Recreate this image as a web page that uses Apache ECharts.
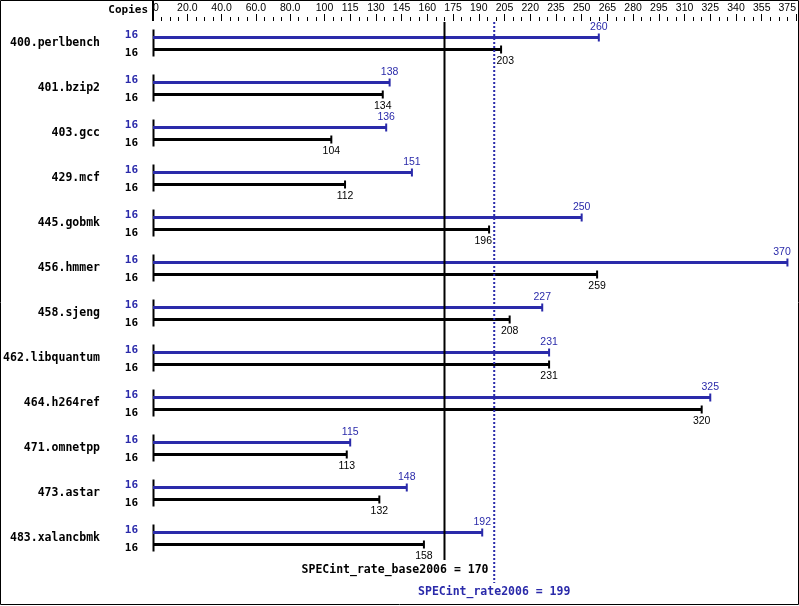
<!DOCTYPE html>
<html>
<head>
<meta charset="utf-8">
<script src="https://cdn.jsdelivr.net/npm/echarts@6/dist/echarts.min.js"></script>
<style>
html,body{margin:0;padding:0;background:#fff;}
#chart{width:799px;height:606px;}
</style>
</head>
<body>
<div id="chart"></div>
<script>
const benchmarks = ['400.perlbench','401.bzip2','403.gcc','429.mcf','445.gobmk','456.hmmer','458.sjeng','462.libquantum','464.h264ref','471.omnetpp','473.astar','483.xalancbmk'];
const peakValues = [260,138,136,151,250,370,227,231,325,115,148,192];
const baseValues = [203,134,104,112,196,259,208,231,320,113,132,158];
const peakCopies = [16,16,16,16,16,16,16,16,16,16,16,16];
const baseCopies = [16,16,16,16,16,16,16,16,16,16,16,16];
const tickValues = [0,20,40,60,80,100,115,130,145,160,175,190,205,220,235,250,265,280,295,310,325,340,355,375];
const tickLabels = ['0','20.0','40.0','60.0','80.0','100','115','130','145','160','175','190','205','220','235','250','265','280','295','310','325','340','355','375'];
const baseMean = 170;
const peakMean = 199;
const baseMeanLabel = 'SPECint_rate_base2006 = 170';
const peakMeanLabel = 'SPECint_rate2006 = 199';

const AXMAX = 375, STEP = 5;
const BLUE = '#2a2aaa';
const MONO_B = 'bold 11px "DejaVu Sans Mono"';
const NUM = '10.5px "Liberation Sans"';

const tickCats = [];
for (let v = 0; v <= AXMAX; v += STEP) tickCats.push(String(v));
const labelMap = {};
tickValues.forEach((v, i) => labelMap[v] = tickLabels[i]);

const chart = echarts.init(document.getElementById('chart'), null, {renderer: 'canvas'});

// keep value labels clear of the dotted peak mean line
function clearOfLine(cx, lineX, halfW) {
  const d = cx - lineX;
  if (Math.abs(d) < halfW + 2) {
    return d >= 0 ? lineX + 3 + halfW : lineX - 3 - halfW;
  }
  return cx;
}

function barsRender(params, api) {
  const i = api.value(0);
  const c = api.coord([0, i]);
  const x0 = c[0], cy = c[1];
  const pEnd = api.coord([api.value(1), i])[0];
  const bEnd = api.coord([api.value(2), i])[0];
  const lineX = api.coord([peakMean, i])[0];
  const right = params.coordSys.x + params.coordSys.width;
  const pLx = clearOfLine(Math.min(pEnd, right - 14), lineX, 8);
  const bLx = clearOfLine(Math.min(bEnd, right - 14), lineX, 8);
  return {
    type: 'group',
    children: [
      {type: 'rect', shape: {x: x0 - 0.5, y: cy - 14, width: 2, height: 27}, style: {fill: '#000'}},
      {type: 'rect', shape: {x: x0, y: cy - 7.5, width: pEnd - x0, height: 3}, style: {fill: BLUE}},
      {type: 'rect', shape: {x: pEnd - 1, y: cy - 10, width: 2, height: 8}, style: {fill: BLUE}},
      {type: 'rect', shape: {x: x0, y: cy + 4.5, width: bEnd - x0, height: 3}, style: {fill: '#000'}},
      {type: 'rect', shape: {x: bEnd - 1, y: cy + 2, width: 2, height: 8}, style: {fill: '#000'}},
      {type: 'text', style: {text: String(api.value(1)), x: pLx, y: cy - 16.5, align: 'center', verticalAlign: 'middle', font: NUM, fill: BLUE}},
      {type: 'text', style: {text: String(api.value(2)), x: bLx, y: cy + 17.5, align: 'center', verticalAlign: 'middle', font: NUM, fill: '#000'}},
      {type: 'text', style: {text: String(api.value(3)), x: x0 - 15, y: cy - 8, align: 'right', verticalAlign: 'middle', font: MONO_B, fill: BLUE}},
      {type: 'text', style: {text: String(api.value(4)), x: x0 - 15, y: cy + 10, align: 'right', verticalAlign: 'middle', font: MONO_B, fill: '#000'}}
    ]
  };
}

function meanRender(kind) {
  return function (params, api) {
    const x = api.coord([api.value(0), 0])[0];
    const top = params.coordSys.y;
    const bottom = params.coordSys.y + params.coordSys.height;
    if (kind === 'base') {
      return {type: 'group', children: [
        {type: 'line', shape: {x1: x, y1: top + 1, x2: x, y2: bottom - 1}, style: {stroke: '#000', lineWidth: 2}},
        {type: 'text', style: {text: baseMeanLabel, x: x + 44, y: bottom + 9, align: 'right', verticalAlign: 'middle', font: 'bold 11.5px "DejaVu Sans Mono"', fill: '#000'}}
      ]};
    }
    return {type: 'group', children: [
      {type: 'line', shape: {x1: x, y1: top + 1, x2: x, y2: bottom + 22}, style: {stroke: BLUE, lineWidth: 2, lineDash: [2, 2]}},
      {type: 'text', style: {text: peakMeanLabel, x: x, y: bottom + 31, align: 'center', verticalAlign: 'middle', font: 'bold 11.5px "DejaVu Sans Mono"', fill: BLUE}}
    ]};
  };
}

const option = {
  animation: false,
  backgroundColor: '#fff',
  grid: {left: 153, right: 3, top: 21, bottom: 45, containLabel: false},
  xAxis: [
    {
      type: 'value', position: 'top', min: 0, max: AXMAX, interval: STEP,
      axisLine: {show: false}, splitLine: {show: false},
      axisTick: {show: true, length: 4, lineStyle: {color: '#000', width: 1}},
      axisLabel: {
        show: true, margin: 7.5, color: '#000', fontFamily: 'Liberation Sans', fontSize: 10.5,
        hideOverlap: false, alignMinLabel: 'left', alignMaxLabel: 'right',
        formatter: v => (labelMap[v] !== undefined ? labelMap[v] : '')
      }
    },
    {
      type: 'category', position: 'top', data: tickCats, boundaryGap: false,
      axisLine: {show: false}, axisLabel: {show: false}, splitLine: {show: false},
      axisTick: {show: true, length: 7, interval: (idx, val) => labelMap[Number(val)] !== undefined, lineStyle: {color: '#000', width: 1}}
    },
    {
      type: 'category', position: 'top', data: tickCats, boundaryGap: false,
      axisLine: {show: false}, axisLabel: {show: false}, splitLine: {show: false},
      axisTick: {show: true, length: 21, interval: (idx) => idx === 0, lineStyle: {color: '#000', width: 2}}
    }
  ],
  yAxis: {
    type: 'category', data: benchmarks, inverse: true,
    axisLine: {show: false}, axisTick: {show: false}, splitLine: {show: false},
    axisLabel: {margin: 53, color: '#000', fontFamily: 'DejaVu Sans Mono', fontWeight: 'bold', fontSize: 11.5}
  },
  graphic: [
    {type: 'rect', shape: {x: 0.5, y: 0.5, width: 798, height: 604}, style: {fill: 'none', stroke: '#000', lineWidth: 1}, silent: true},
    {type: 'text', x: 148, y: 10, style: {text: 'Copies', align: 'right', verticalAlign: 'middle', font: MONO_B, fill: '#000'}}
  ],
  series: [
    {
      type: 'custom', xAxisIndex: 0, yAxisIndex: 0, clip: false, z: 2,
      encode: {x: [1, 2], y: 0},
      data: benchmarks.map((b, i) => [i, peakValues[i], baseValues[i], peakCopies[i], baseCopies[i]]),
      renderItem: barsRender
    },
    {
      type: 'custom', xAxisIndex: 0, yAxisIndex: 0, clip: false, z: 3,
      encode: {x: 0},
      data: [[baseMean]],
      renderItem: meanRender('base')
    },
    {
      type: 'custom', xAxisIndex: 0, yAxisIndex: 0, clip: false, z: 3,
      encode: {x: 0},
      data: [[peakMean]],
      renderItem: meanRender('peak')
    }
  ]
};
chart.setOption(option);
</script>
</body>
</html>
